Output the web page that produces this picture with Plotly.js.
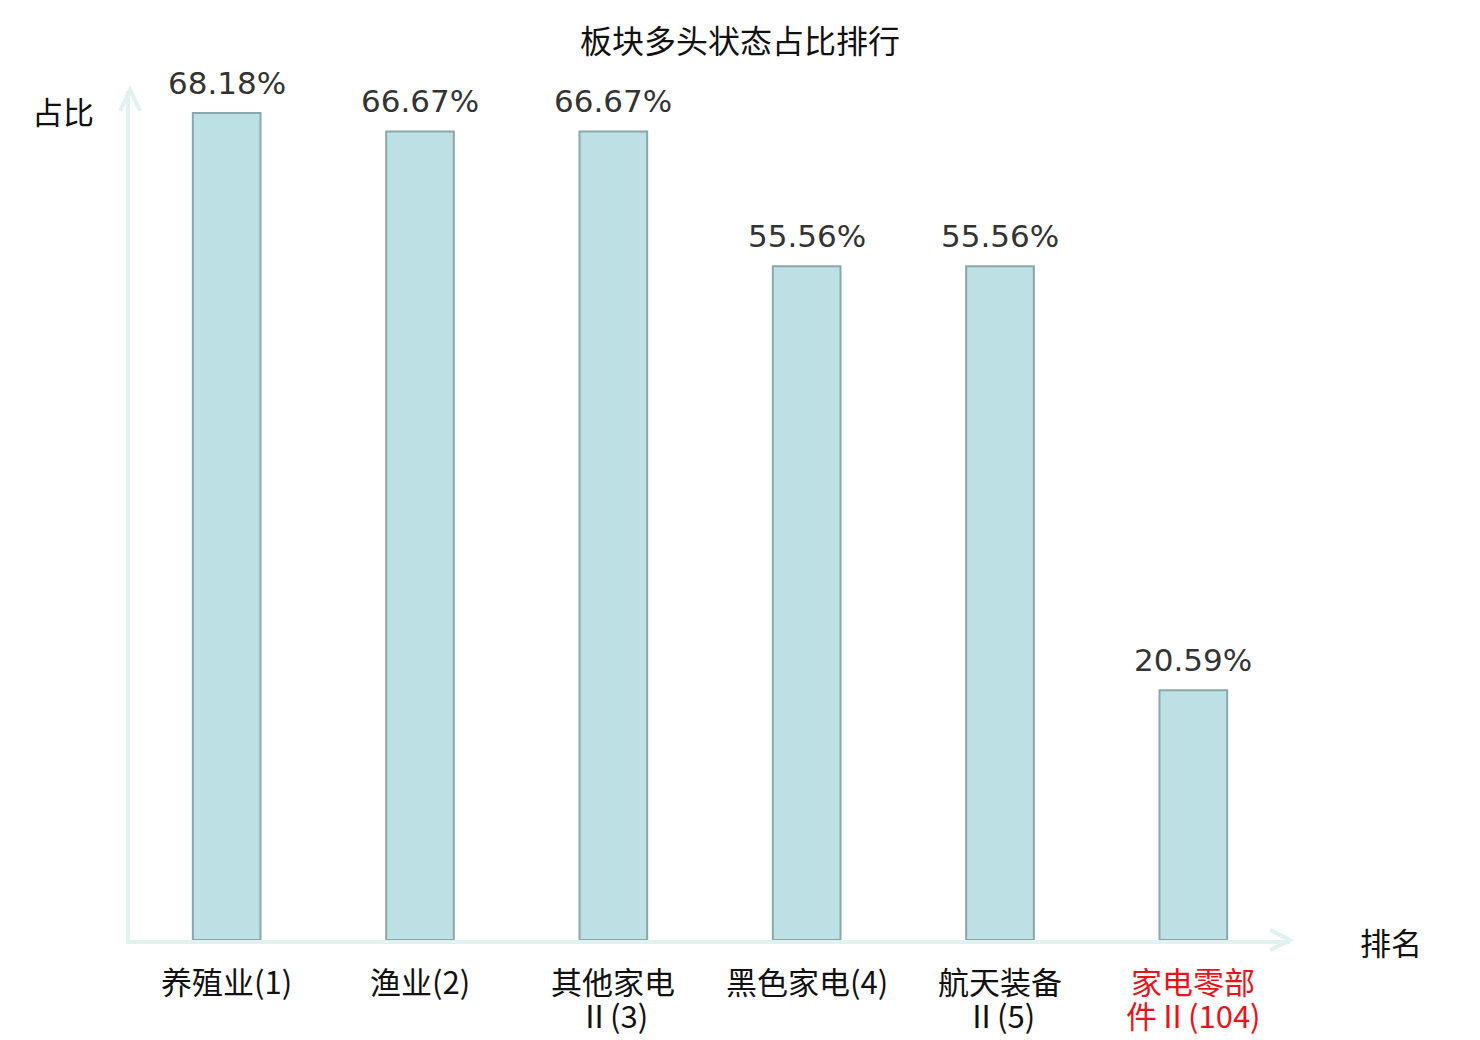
<!DOCTYPE html>
<html>
<head>
<meta charset="utf-8">
<script src="https://cdn.plot.ly/plotly-3.0.1.min.js"></script>
<style>html,body{margin:0;padding:0;background:#fff;}#chart{width:1480px;height:1040px;}</style>
</head>
<body>
<div id="chart"></div>
<script>
const categories = ["养殖业(1)", "渔业(2)", "其他家电Ⅱ(3)", "黑色家电(4)", "航天装备Ⅱ(5)", "家电零部件Ⅱ(104)"];
const tickLine1 = ["养殖业(1)", "渔业(2)", "其他家电", "黑色家电(4)", "航天装备", "家电零部"];
const tickLine2 = ["", "", "Ⅱ(3)", "", "Ⅱ(5)", "件Ⅱ(104)"];
const highlight = [false, false, false, false, false, true];
const values = [68.18, 66.67, 66.67, 55.56, 55.56, 20.59];
const valueLabels = ["68.18%", "66.67%", "66.67%", "55.56%", "55.56%", "20.59%"];

const axisColor = "#dff2ef";
const cjk = "Noto Sans CJK SC, Noto Sans, sans-serif";
const red = "#e8141c";
const txt = "#111111";

const trace = {
  type: "bar",
  x: categories,
  y: values,
  width: 0.35,
  marker: { color: "#bce0e3", line: { color: "#8ba7a9", width: 2 } },
  hoverinfo: "skip"
};

const labelAnns = categories.map((c, i) => ({
  x: c, y: values[i], xref: "x", yref: "y",
  text: valueLabels[i], showarrow: false,
  yanchor: "middle", yshift: 30,
  font: { family: "DejaVu Sans", size: 31, color: "#333333" }
}));

const tickAnns1 = categories.map((c, i) => ({
  x: c, y: 0, xref: "x", yref: "y",
  text: tickLine1[i], showarrow: false,
  yanchor: "middle", yshift: -40,
  font: { family: cjk, size: 31, color: highlight[i] ? red : txt }
}));
const tickAnns2 = categories.map((c, i) => ({
  x: c, y: 0, xref: "x", yref: "y",
  text: tickLine2[i], showarrow: false,
  yanchor: "middle", yshift: -74,
  font: { family: cjk, size: 31, color: highlight[i] ? red : txt }
})).filter(a => a.text !== "");

const layout = {
  width: 1480, height: 1040,
  margin: { l: 130, r: 190, t: 91, b: 100 },
  paper_bgcolor: "#ffffff", plot_bgcolor: "#ffffff",
  showlegend: false,
  title: {
    text: "板块多头状态占比排行",
    x: 0.5, xanchor: "center", xref: "container",
    y: 1 - 42 / 1040, yanchor: "middle", yref: "container",
    font: { family: cjk, size: 32, color: txt }
  },
  xaxis: {
    type: "category",
    range: [-0.5, 5.5],
    showticklabels: false,
    showgrid: false, zeroline: false,
    showline: true, linecolor: axisColor, linewidth: 4,
    ticks: "",
    fixedrange: true
  },
  yaxis: {
    range: [0, 70],
    showgrid: false, zeroline: false,
    showline: true, linecolor: axisColor, linewidth: 4,
    showticklabels: false, ticks: "",
    fixedrange: true
  },
  annotations: labelAnns.concat(tickAnns1, tickAnns2, [
    { xref: "paper", yref: "paper", x: -67/1160 , y: 1 + (91-110)/849, text: "占比", showarrow: false,
      xanchor: "center", yanchor: "middle", font: { family: cjk, size: 31, color: txt } },
    { xref: "paper", yref: "paper", x: 1 + (1391-1290)/1160, y: -1/849, text: "排名", showarrow: false,
      xanchor: "center", yanchor: "middle", font: { family: cjk, size: 31, color: txt } }
  ]),
  shapes: [
    { type: "path", xref: "paper", yref: "paper", xsizemode: "pixel", ysizemode: "pixel",
      xanchor: 0, yanchor: 1, path: "M -10 -20 L 0 1 L 10 -20",
      line: { color: axisColor, width: 4 } },
    { type: "path", xref: "paper", yref: "paper", xsizemode: "pixel", ysizemode: "pixel",
      xanchor: 1, yanchor: 0, path: "M -20 10 L 0 0 L -20 -10",
      line: { color: axisColor, width: 4 } }
  ]
};

Plotly.newPlot("chart", [trace], layout, { displayModeBar: false, staticPlot: true });
</script>
</body>
</html>
